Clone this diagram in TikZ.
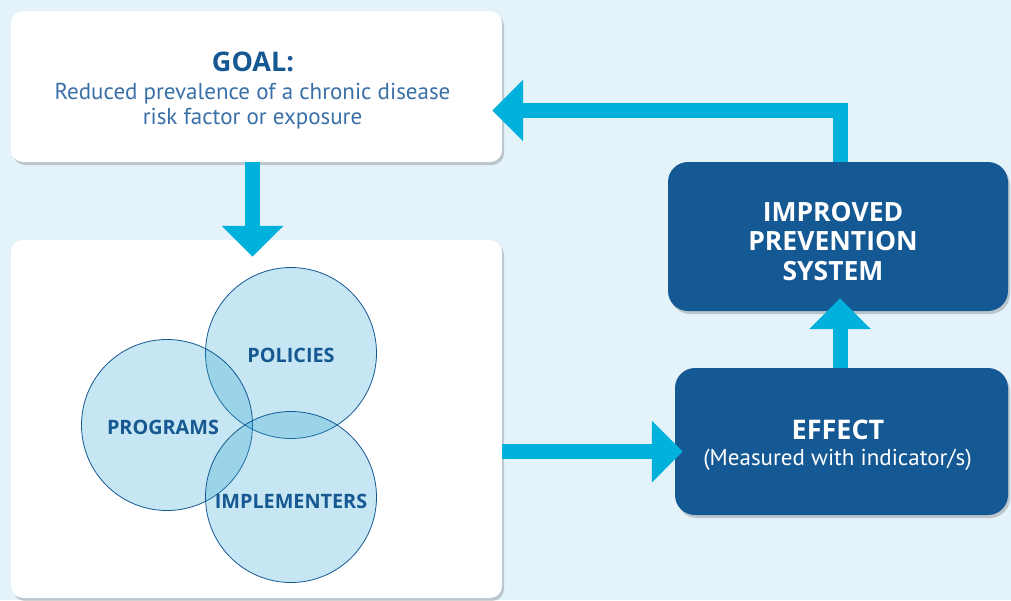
\documentclass[tikz,border=0pt]{standalone}
\usepackage{fontspec}
\setmainfont{PT Sans}
\newfontfamily\headfont{Open Sans}
\usetikzlibrary{arrows.meta}
\definecolor{bgblue}{RGB}{228,242,249}
\definecolor{darkblue}{RGB}{21,89,148}
\definecolor{textblue}{RGB}{22,88,145}
\definecolor{lightblue}{RGB}{58,112,168}
\definecolor{arrowcyan}{RGB}{0,178,219}
\definecolor{venncol}{RGB}{45,164,211}
\begin{document}
\begin{tikzpicture}[x=1pt,y=-1pt]
      \tikzstyle{boxshadow}=[fill=black, opacity=0.18]
      \tikzstyle{whitebox}=[fill=white, rounded corners=12pt, inner sep=0pt]
      \tikzstyle{bluebox}=[fill=darkblue, rounded corners=20pt, inner sep=0pt]
      \tikzstyle{vennball}=[circle, minimum size=171pt, inner sep=0pt, draw=darkblue, line width=0.8pt, fill=venncol, fill opacity=0.276]
      \tikzstyle{venntext}=[inner sep=0pt, text=textblue, font=\headfont\fontsize{19.8}{22}\selectfont\bfseries]
      \tikzstyle{headtext}=[inner sep=0pt, anchor=base, font=\headfont\fontsize{27}{30}\selectfont\bfseries]
      \tikzstyle{bodytext}=[inner sep=0pt, anchor=base, font=\fontsize{23}{26}\selectfont]
      \tikzstyle{flow}=[draw=arrowcyan, line width=15pt, -{Triangle[width=60pt,length=31pt]}]
      \useasboundingbox (0,0) rectangle (1011,600);
      \clip (0,0) rectangle (1011,600);
      \fill[bgblue] (0,0) rectangle (1011,600);
      % shadows
      \fill[boxshadow, rounded corners=12pt] (13,14) rectangle (504,165);
      \fill[boxshadow, rounded corners=12pt] (13,243) rectangle (504,601);
      \fill[boxshadow, rounded corners=20pt] (670,165) rectangle (1010,314);
      \fill[boxshadow, rounded corners=20pt] (677,371) rectangle (1010,518);
      % boxes
      \node[whitebox, minimum width=491pt, minimum height=151pt] (goal) at (256.5,86.5) {};
      \node[whitebox, minimum width=491pt, minimum height=358pt] (venn) at (256.5,419) {};
      \node[bluebox, minimum width=340pt, minimum height=149pt] (improved) at (838,236.5) {};
      \node[bluebox, minimum width=333pt, minimum height=147pt] (effect) at (841.5,441.5) {};
      % texts
      \node[headtext, text=textblue] (goalhead) at (253,71) {GOAL:};
      \node[bodytext, text=lightblue] (goalline) at (252.5,99) {Reduced prevalence of a chronic disease};
      \node[bodytext, text=lightblue] (goalrisk) at (252.5,124) {risk factor or exposure};
      \node[inner sep=0pt, anchor=north, align=center, text=white, font=\headfont\fontsize{26.5}{29.5}\selectfont\bfseries] (improvedtext) at (833,202)
        {IMPROVED\\ PREVENTION\\ SYSTEM};
      \node[headtext, text=white] (effecthead) at (838,439) {EFFECT};
      \node[bodytext, text=white] (effectnote) at (837.5,465) {(Measured with indicator/s)};
      % venn
      \node[vennball] (policies) at (291,353) {};
      \node[vennball] (programs) at (167,425) {};
      \node[vennball] (implementers) at (291,497) {};
      \node[venntext] (policiestext) at (291,355) {POLICIES};
      \node[venntext] (programstext) at (163,427.5) {PROGRAMS};
      \node[venntext] (implementerstext) at (291,501) {IMPLEMENTERS};
      % arrows
      \coordinate (flowin) at ([yshift=-10pt]effect.west);
      \draw[flow] ([xshift=-4pt]goal.south) -- ([xshift=-4pt,yshift=-17pt]venn.north);
      \draw[flow] (venn.east |- flowin) -- ([xshift=8pt]flowin);
      \draw[flow] ([xshift=-1.5pt]effect.north) -- ([xshift=-1.5pt,yshift=13pt]effect.north |- improved.south);
      \draw[flow] ([xshift=2.5pt]improved.north) |- ([xshift=-10pt,yshift=-24pt]goal.east);
\end{tikzpicture}
\end{document}
